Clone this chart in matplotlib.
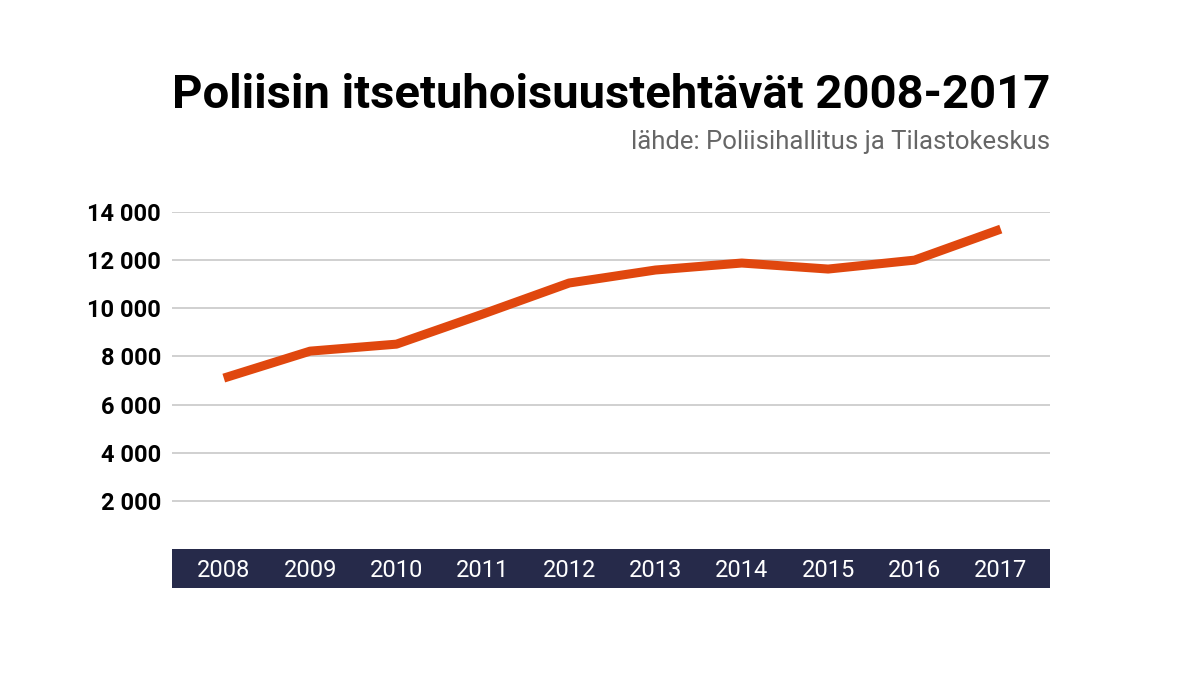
import matplotlib
matplotlib.use("Agg")
import matplotlib.pyplot as plt
from matplotlib import font_manager

years = ["2008","2009","2010","2011","2012","2013","2014","2015","2016","2017"]
values = [7100, 8220, 8510, 9760, 11050, 11590, 11880, 11630, 12000, 13290]
yticks = [2000, 4000, 6000, 8000, 10000, 12000, 14000]
ylabels = ["2 000","4 000","6 000","8 000","10 000","12 000","14 000"]

names = {f.name for f in font_manager.fontManager.ttflist}
fam = "Liberation Sans Narrow" if "Liberation Sans Narrow" in names else "Roboto"

W, H = 1198, 674
fig = plt.figure(figsize=(W/100, H/100), dpi=100)
fig.patch.set_facecolor("white")
L, R, T, B = 172, 1050, 212, 549
ax = fig.add_axes([L/W, 1-B/H, (R-L)/W, (B-T)/H])
ax.set_xlim(-0.6, 9.57)
ax.set_ylim(0, 14000)
for s in ax.spines.values():
    s.set_visible(False)
for v in yticks:
    ax.axhline(v, color="#c8c8c8", lw=1.2, zorder=1)
ax.plot(range(len(years)), values, color="#e0470e", lw=6.5, solid_capstyle="butt", zorder=3)
ax.set_xticks([])
ax.set_yticks(yticks)
ax.set_yticklabels(ylabels, fontfamily=fam, fontweight="bold", fontsize=17)
ax.tick_params(axis="y", length=0, pad=8)

band = fig.add_axes([L/W, 1-588/H, (R-L)/W, 39/H])
band.set_facecolor("#262a4a")
band.set_xlim(-0.6, 9.57)
band.set_ylim(0, 1)
band.set_xticks([]); band.set_yticks([])
for s in band.spines.values():
    s.set_visible(False)
for i, y in enumerate(years):
    band.text(i, 0.45, y, color="white", ha="center", va="center", fontsize=17, fontfamily=fam)

fig.text(R/W, 1-95/H, "Poliisin itsetuhoisuustehtävät 2008-2017", ha="right", va="center",
         fontsize=34, fontweight="bold", fontfamily=fam)
fig.text(R/W, 1-142/H, "lähde: Poliisihallitus ja Tilastokeskus", ha="right", va="center",
         fontsize=18.5, color="#666666", fontfamily=fam)
fig.savefig("out.png", dpi=100)
